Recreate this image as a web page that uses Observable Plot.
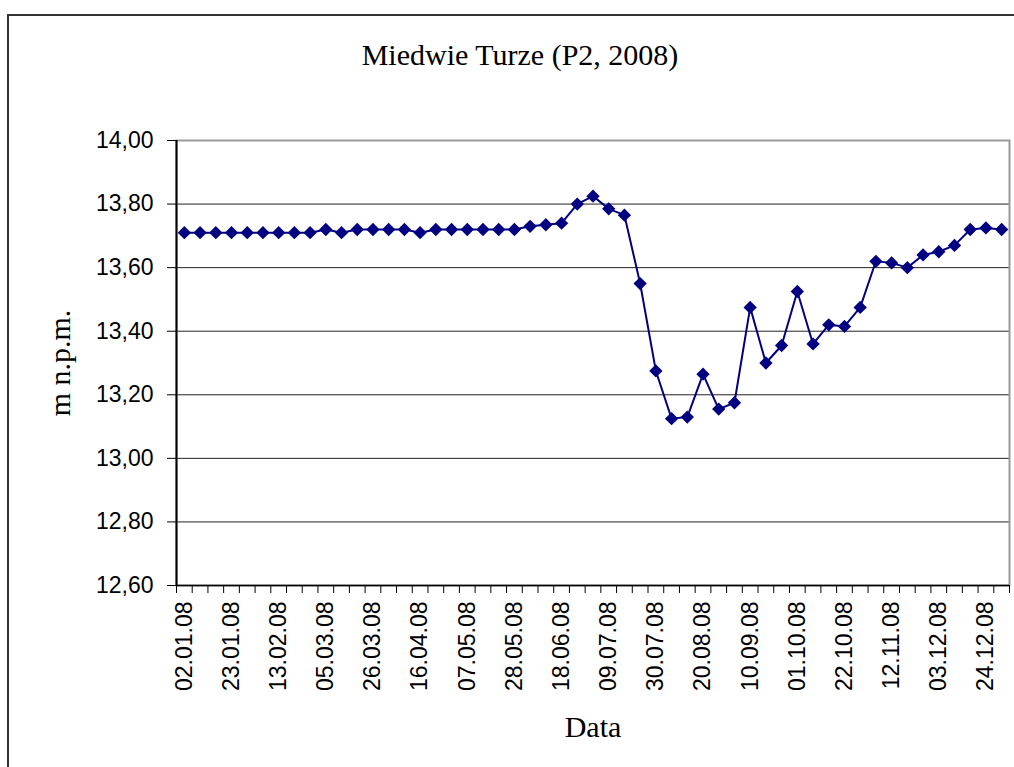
<!DOCTYPE html>
<html><head><meta charset="utf-8">
<script src="https://cdn.jsdelivr.net/npm/d3@7"></script>
<script src="https://cdn.jsdelivr.net/npm/@observablehq/plot@0.6"></script>
<style>
html,body{margin:0;padding:0;background:#fff;overflow:hidden;}
#wrap{position:relative;width:1014px;height:767px;overflow:hidden;background:#fff;}
#border{position:absolute;left:7px;top:14px;width:1100px;height:900px;border-top:2px solid #333;border-left:2px solid #333;}
#title{position:absolute;left:0;top:40px;width:1040px;text-align:center;font:30px/30px "Liberation Serif","Times New Roman",serif;color:#000;}
#chart{position:absolute;left:0;top:100px;}
</style></head><body>
<div id="wrap"><div id="border"></div><div id="title">Miedwie Turze (P2, 2008)</div><div id="chart"></div></div>
<script>
const dates = [
  "02.01.08","09.01.08","16.01.08","23.01.08","30.01.08",
  "06.02.08","13.02.08","20.02.08","27.02.08",
  "05.03.08","12.03.08","19.03.08","26.03.08",
  "02.04.08","09.04.08","16.04.08","23.04.08","30.04.08",
  "07.05.08","14.05.08","21.05.08","28.05.08",
  "04.06.08","11.06.08","18.06.08","25.06.08",
  "02.07.08","09.07.08","16.07.08","23.07.08","30.07.08",
  "06.08.08","13.08.08","20.08.08","27.08.08",
  "03.09.08","10.09.08","17.09.08","24.09.08",
  "01.10.08","08.10.08","15.10.08","22.10.08","29.10.08",
  "05.11.08","12.11.08","19.11.08","26.11.08",
  "03.12.08","10.12.08","17.12.08","24.12.08","31.12.08"
];
const levels = [
  13.71,13.71,13.71,13.71,13.71,
  13.71,13.71,13.71,13.71,
  13.72,13.71,13.72,13.72,
  13.72,13.72,13.71,13.72,13.72,
  13.72,13.72,13.72,13.72,
  13.73,13.735,13.74,13.80,
  13.825,13.785,13.765,13.55,13.275,
  13.125,13.13,13.265,13.155,
  13.175,13.475,13.30,13.355,
  13.525,13.36,13.42,13.415,13.475,
  13.62,13.615,13.60,13.64,
  13.65,13.67,13.72,13.725,13.72
];
const tickLabels = [
  "02.01.08","23.01.08","13.02.08","05.03.08","26.03.08","16.04.08",
  "07.05.08","28.05.08","18.06.08","09.07.08","30.07.08","20.08.08",
  "10.09.08","01.10.08","22.10.08","12.11.08","03.12.08","24.12.08"
];
const yTicks = [12.6, 12.8, 13.0, 13.2, 13.4, 13.6, 13.8, 14.0];

const data = dates.map((d, i) => ({date: d, level: levels[i]}));
const frameLeft = 176, frameRight = 1009;
const step = (frameRight - frameLeft) / dates.length;
const fmt = v => d3.format(".2f")(v).replace(".", ",");
const sans = "'Liberation Sans', Arial, sans-serif";
const serif = "'Liberation Serif', 'Times New Roman', serif";

const plot = Plot.plot({
  width: 1014, height: 667,
  marginLeft: frameLeft, marginRight: 1014 - frameRight, marginTop: 40, marginBottom: 182,
  style: {background: "transparent", overflow: "visible"},
  x: {type: "point", domain: dates, padding: 0.5, axis: null},
  y: {domain: [12.6, 14.0], axis: null},
  marks: [
    Plot.ruleY(yTicks, {stroke: "#222", strokeWidth: 1}),
    Plot.frame({stroke: "#999", strokeWidth: 2}),
    Plot.ruleY([12.6], {stroke: "#000", strokeWidth: 1.5}),
    Plot.ruleX([dates[0]], {dx: -step / 2, stroke: "#000", strokeWidth: 2}),
    Plot.axisY(yTicks, {anchor: "left", tickSize: 9, tickPadding: 14, tickFormat: fmt,
      fontSize: 23, fontFamily: sans, label: null}),
    Plot.axisX(dates, {anchor: "bottom", tickSize: 8, tickFormat: () => "", dx: step / 2, label: null}),
    Plot.axisX([dates[0]], {anchor: "bottom", tickSize: 8, tickFormat: () => "", dx: -step / 2, label: null}),
    Plot.axisX(tickLabels, {anchor: "bottom", tickSize: 0, tickPadding: 16, tickRotate: -90,
      tickFormat: d => d, fontSize: 23, fontFamily: sans, label: null}),
    Plot.line(data, {x: "date", y: "level", stroke: "#000080", strokeWidth: 2}),
    Plot.dot(data, {x: "date", y: "level", symbol: "diamond2", r: 6, fill: "#000080"}),
    Plot.text(["m n.p.m."], {text: d => d, frameAnchor: "left", dx: -116, rotate: -90,
      textAnchor: "middle", lineAnchor: "middle", fontSize: 30, fontFamily: serif, fill: "#000"}),
    Plot.text(["Data"], {text: d => d, frameAnchor: "bottom", dy: 142, textAnchor: "middle",
      lineAnchor: "middle", fontSize: 30, fontFamily: serif, fill: "#000"})
  ]
});
document.getElementById("chart").appendChild(plot);
</script>
</body></html>
